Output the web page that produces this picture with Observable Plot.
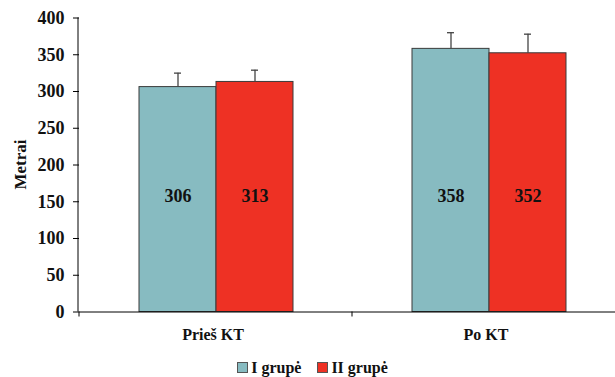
<!DOCTYPE html>
<html><head><meta charset="utf-8">
<script src="https://cdn.jsdelivr.net/npm/d3@7"></script>
<script src="https://cdn.jsdelivr.net/npm/@observablehq/plot@0.6"></script>
<style>
body{margin:0;background:#fff;overflow:hidden;font-family:"Liberation Serif",Tinos,"Times New Roman","DejaVu Serif",serif;}
#legend{display:flex;justify-content:center;align-items:center;gap:16px;font-weight:bold;font-size:16px;height:25px;padding-top:3px;padding-left:10px;color:#111;}
#legend .item{display:flex;align-items:center;gap:3px;}
#legend .sw{width:9px;height:9px;border:1px solid #555;display:inline-block;}
</style></head><body><div id="chart"></div><div id="legend"></div>
<script>
const groups = ["Prieš KT", "Po KT"];
const series = ["I grupė", "II grupė"];
const valuesI = [306, 358];
const valuesII = [313, 352];
const errorsI = [19, 22];
const errorsII = [16, 26];
const colors = ["#87BBC1", "#EE3124"];
const yTicks = [0, 50, 100, 150, 200, 250, 300, 350, 400];
const yLabel = "Metrai";
const labelLevel = 157;
const FONT = "'Liberation Serif', Tinos, 'Times New Roman', 'DejaVu Serif', serif";

const data = [];
groups.forEach((g, i) => {
  data.push({group: g, series: series[0], value: valuesI[i], err: errorsI[i]});
  data.push({group: g, series: series[1], value: valuesII[i], err: errorsII[i]});
});

const chart = Plot.plot({
  width: 615, height: 352,
  marginLeft: 78, marginTop: 17.5, marginBottom: 40.5, marginRight: 0,
  style: {fontFamily: FONT, background: "#fff", color: "#111", overflow: "visible"},
  fx: {domain: groups, range: [78, 625], padding: 0, label: null},
  x: {domain: series, paddingInner: 0, paddingOuter: 0.753, axis: null},
  y: {domain: [0, 400]},
  color: {domain: series, range: colors},
  marks: [
    Plot.barY(data, {fx: "group", x: "series", y: "value", fill: "series", stroke: "#3a3a3a", strokeWidth: 1}),
    Plot.ruleX(data, {fx: "group", x: "series", y1: "value", y2: d => d.value + d.err, stroke: "#444", strokeWidth: 1.3}),
    Plot.tickY(data, {fx: "group", x: "series", y: d => d.value + d.err, stroke: "#444", strokeWidth: 1.3, insetLeft: 35, insetRight: 35}),
    Plot.text(data, {fx: "group", x: "series", y: () => labelLevel, text: d => String(d.value), fontSize: 18, fontWeight: "bold", fill: "#111"}),
    Plot.ruleY([0], {stroke: "#000", strokeWidth: 1}),
    Plot.axisY({ticks: yTicks, tickSize: 6, tickPadding: 9, fontSize: 18, fontWeight: "bold", label: null, stroke: "#000"}),
    Plot.axisFx({anchor: "bottom", tickSize: 0, tickPadding: 17, fontSize: 16, fontWeight: "bold", label: null, dx: -3})
  ]
});
document.getElementById("chart").appendChild(chart);
const svg = d3.select(chart);
svg.selectAll("text").style("font-family", FONT);

// axis line, y label and category boundary ticks
const ys = chart.scale("y"), fxs = chart.scale("fx");
const y0 = ys.apply(0), yTop = ys.apply(400);
svg.append("line").attr("x1", 78).attr("x2", 78).attr("y1", yTop).attr("y2", y0).attr("stroke", "#000");
groups.forEach(g => {
  const left = fxs.apply(g);
  svg.append("line").attr("x1", left).attr("x2", left).attr("y1", y0).attr("y2", y0 + 5).attr("stroke", "#000");
});
svg.append("text")
  .attr("transform", `translate(26,${(y0 + yTop) / 2}) rotate(-90)`)
  .attr("text-anchor", "middle")
  .style("font-family", FONT).style("font-size", "17px").style("font-weight", "bold").attr("fill", "#111")
  .text(yLabel);

const legend = document.getElementById("legend");
series.forEach((s, i) => {
  const item = document.createElement("span");
  item.className = "item";
  const sw = document.createElement("span");
  sw.className = "sw";
  sw.style.background = colors[i];
  item.appendChild(sw);
  item.appendChild(document.createTextNode(s));
  legend.appendChild(item);
});
</script></body></html>
